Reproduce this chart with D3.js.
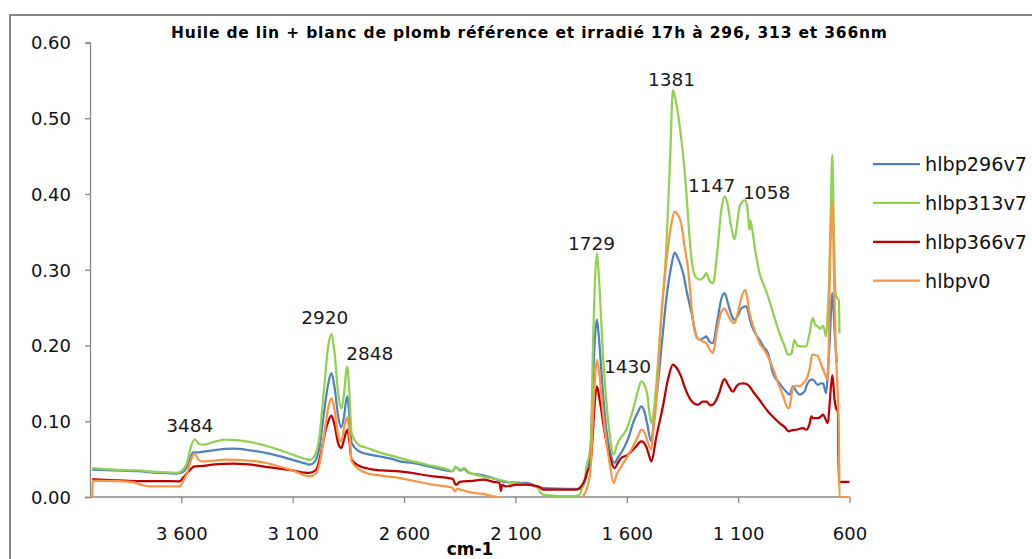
<!DOCTYPE html>
<html>
<head>
<meta charset="utf-8">
<script src="https://cdn.jsdelivr.net/npm/d3@7"></script>
<style>
  html, body { margin: 0; padding: 0; background: #fff; }
  svg { display: block; }
</style>
</head>
<body>
<svg id="chart" width="1032" height="559"></svg>
<script>
// ---------------- DATA ----------------
const chartTitle = "Huile de lin + blanc de plomb référence et irradié 17h à 296, 313 et 366nm";
const xAxisTitle = "cm-1";
const seriesNames = ["hlbp296v7", "hlbp313v7", "hlbp366v7", "hlbpv0"];
const seriesColors = ["#4F81BD", "#92D050", "#C00000", "#F79646"];
const xTicks = [3600, 3100, 2600, 2100, 1600, 1100, 600];
const yTicks = [0, 0.1, 0.2, 0.3, 0.4, 0.5, 0.6];

// [wavenumber cm-1, absorbance]
const hlbp296v7 = [[4000,0.036],[3900,0.035],[3800,0.034],[3700,0.032],[3620,0.031],[3600,0.032],[3575,0.040],[3555,0.055],[3547,0.059],[3520,0.059],[3500,0.060],[3450,0.062],[3368,0.0637],[3300,0.062],[3200,0.057],[3100,0.049],[3040,0.044],[3024,0.0426],[3000,0.047],[2980,0.065],[2960,0.110],[2940,0.150],[2926,0.1636],[2912,0.145],[2895,0.105],[2882,0.092],[2870,0.105],[2860,0.127],[2854,0.1328],[2846,0.11],[2835,0.071],[2800,0.060],[2769,0.057],[2700,0.053],[2649,0.050],[2620,0.047],[2561,0.0449],[2470,0.039],[2381,0.034],[2370,0.039],[2364,0.039],[2350,0.035],[2330,0.037],[2310,0.032],[2245,0.0285],[2171,0.022],[2150,0.020],[2100,0.019],[2051,0.0185],[2000,0.013],[1991,0.0119],[1900,0.011],[1812,0.0106],[1795,0.015],[1781,0.0317],[1763,0.0624],[1752,0.15],[1742,0.215],[1734,0.234],[1725,0.21],[1708,0.1416],[1690,0.085],[1677,0.0624],[1655,0.0449],[1640,0.052],[1617,0.0624],[1590,0.08],[1572,0.0976],[1550,0.112],[1535,0.1195],[1520,0.112],[1509,0.0976],[1490,0.0734],[1475,0.11],[1460,0.150],[1440,0.21],[1423,0.260],[1400,0.305],[1385,0.3227],[1370,0.315],[1347,0.2955],[1330,0.27],[1309,0.2428],[1290,0.215],[1273,0.2075],[1255,0.21],[1243,0.212],[1228,0.205],[1213,0.203],[1195,0.23],[1175,0.262],[1161,0.269],[1145,0.255],[1130,0.24],[1116,0.234],[1100,0.24],[1086,0.249],[1064,0.2515],[1055,0.245],[1049,0.236],[1030,0.22],[1004,0.2075],[985,0.198],[966,0.19],[944,0.1636],[914,0.15],[884,0.139],[869,0.135],[854,0.146],[840,0.14],[824,0.135],[800,0.14],[794,0.146],[771,0.155],[765,0.155],[742,0.148],[730,0.15],[719,0.150],[708,0.139],[705,0.137],[697,0.165],[690,0.2],[677,0.269],[667,0.22],[657,0.177]];

const hlbp313v7 = [[4000,0.038],[3900,0.036],[3800,0.035],[3700,0.033],[3620,0.032],[3600,0.034],[3575,0.045],[3555,0.068],[3540,0.076],[3520,0.070],[3500,0.069],[3450,0.073],[3400,0.0756],[3300,0.073],[3200,0.066],[3100,0.056],[3040,0.050],[3024,0.049],[3000,0.055],[2980,0.080],[2960,0.140],[2940,0.200],[2926,0.2155],[2912,0.190],[2895,0.135],[2882,0.117],[2870,0.135],[2860,0.165],[2854,0.172],[2846,0.140],[2835,0.084],[2800,0.068],[2769,0.065],[2700,0.058],[2649,0.054],[2561,0.047],[2470,0.041],[2400,0.036],[2381,0.034],[2370,0.040],[2364,0.039],[2350,0.036],[2330,0.038],[2310,0.033],[2245,0.027],[2171,0.0228],[2100,0.018],[2051,0.017],[2000,0.012],[1985,0.005],[1976,0.003],[1900,0.001],[1842,0.001],[1812,0.003],[1800,0.012],[1789,0.023],[1781,0.040],[1767,0.058],[1760,0.080],[1752,0.194],[1742,0.290],[1734,0.322],[1725,0.29],[1708,0.194],[1690,0.12],[1677,0.084],[1659,0.056],[1645,0.068],[1633,0.0756],[1602,0.0888],[1572,0.115],[1550,0.14],[1535,0.1525],[1520,0.148],[1509,0.137],[1490,0.0976],[1480,0.11],[1467,0.150],[1445,0.238],[1423,0.326],[1405,0.45],[1393,0.537],[1385,0.53],[1362,0.489],[1338,0.423],[1320,0.35],[1309,0.313],[1290,0.29],[1273,0.287],[1255,0.29],[1243,0.2955],[1228,0.285],[1213,0.282],[1195,0.32],[1175,0.38],[1161,0.397],[1150,0.39],[1130,0.355],[1116,0.340],[1105,0.36],[1094,0.383],[1080,0.39],[1071,0.392],[1060,0.385],[1052,0.36],[1049,0.353],[1045,0.365],[1041,0.36],[1020,0.32],[1004,0.2955],[985,0.28],[966,0.265],[940,0.24],[914,0.216],[890,0.198],[876,0.188],[869,0.188],[860,0.19],[847,0.2075],[835,0.20],[824,0.199],[794,0.199],[780,0.215],[765,0.236],[755,0.228],[742,0.225],[730,0.222],[719,0.226],[712,0.22],[705,0.212],[697,0.25],[692,0.282],[684,0.38],[677,0.4517],[670,0.35],[663,0.269],[655,0.262],[648,0.26],[645,0.216]];

const hlbp366v7 = [[4000,0.0237],[3900,0.022],[3800,0.021],[3700,0.021],[3607,0.0206],[3593,0.025],[3570,0.033],[3540,0.0404],[3500,0.041],[3450,0.043],[3368,0.044],[3300,0.043],[3200,0.039],[3100,0.035],[3024,0.0317],[2995,0.036],[2975,0.055],[2955,0.085],[2940,0.100],[2926,0.1073],[2912,0.095],[2895,0.07],[2882,0.0646],[2870,0.075],[2860,0.086],[2854,0.0888],[2846,0.075],[2835,0.049],[2800,0.041],[2769,0.038],[2700,0.035],[2620,0.0338],[2470,0.0272],[2381,0.024],[2370,0.017],[2364,0.0162],[2350,0.020],[2330,0.0206],[2300,0.021],[2245,0.0228],[2200,0.020],[2171,0.0185],[2165,0.008],[2160,0.016],[2140,0.014],[2100,0.016],[2051,0.0162],[2000,0.014],[1985,0.012],[1976,0.0096],[1900,0.0096],[1827,0.0096],[1805,0.014],[1785,0.025],[1774,0.036],[1767,0.038],[1755,0.0712],[1745,0.12],[1734,0.146],[1720,0.125],[1708,0.102],[1690,0.07],[1677,0.0536],[1655,0.038],[1640,0.045],[1625,0.0515],[1600,0.055],[1587,0.058],[1560,0.066],[1535,0.0734],[1513,0.0668],[1500,0.055],[1490,0.047],[1467,0.080],[1438,0.1195],[1415,0.155],[1393,0.1746],[1375,0.17],[1356,0.159],[1340,0.145],[1318,0.1306],[1300,0.124],[1280,0.1218],[1260,0.126],[1243,0.126],[1225,0.121],[1213,0.122],[1195,0.13],[1183,0.139],[1170,0.152],[1161,0.1557],[1145,0.148],[1123,0.139],[1110,0.145],[1094,0.1495],[1075,0.15],[1056,0.148],[1030,0.138],[1004,0.128],[966,0.113],[940,0.105],[914,0.0976],[890,0.092],[872,0.0866],[860,0.088],[839,0.0888],[809,0.091],[794,0.0888],[780,0.096],[771,0.1063],[765,0.104],[742,0.104],[730,0.106],[719,0.1086],[705,0.101],[697,0.0976],[690,0.12],[677,0.161],[667,0.1284],[660,0.117],[652,0.113],[648,0.02],[600,0.02]];

const hlbpv0 = [[4000,0],[3998,0.0215],[3900,0.021],[3817,0.0197],[3780,0.016],[3742,0.014],[3607,0.014],[3593,0.02],[3570,0.035],[3555,0.05],[3540,0.0571],[3525,0.05],[3510,0.047],[3450,0.048],[3399,0.0492],[3300,0.048],[3220,0.0449],[3100,0.035],[3024,0.0272],[2995,0.031],[2975,0.05],[2955,0.09],[2940,0.118],[2926,0.1306],[2912,0.115],[2895,0.08],[2882,0.0734],[2870,0.09],[2860,0.102],[2854,0.1055],[2846,0.085],[2835,0.047],[2800,0.036],[2769,0.0317],[2700,0.028],[2620,0.025],[2470,0.0162],[2381,0.0119],[2373,0.0074],[2360,0.011],[2340,0.009],[2300,0.006],[2245,0.004],[2200,0.001],[2155,-0.0013],[2100,-0.006],[2000,-0.01],[1900,-0.01],[1800,-0.004],[1796,0],[1781,0.0096],[1767,0.027],[1760,0.049],[1752,0.106],[1742,0.16],[1734,0.181],[1722,0.16],[1708,0.115],[1690,0.07],[1677,0.0449],[1659,0.0185],[1645,0.03],[1625,0.040],[1600,0.052],[1572,0.0668],[1550,0.08],[1535,0.0888],[1520,0.085],[1509,0.0756],[1490,0.0624],[1480,0.09],[1467,0.128],[1445,0.238],[1423,0.309],[1400,0.36],[1385,0.3768],[1370,0.372],[1356,0.3615],[1340,0.33],[1326,0.304],[1303,0.234],[1285,0.21],[1273,0.2075],[1255,0.205],[1243,0.203],[1228,0.195],[1213,0.19],[1195,0.22],[1175,0.245],[1161,0.249],[1145,0.24],[1130,0.232],[1116,0.2296],[1100,0.245],[1086,0.2626],[1068,0.2735],[1060,0.265],[1050,0.245],[1041,0.234],[1020,0.215],[1004,0.203],[985,0.195],[966,0.1855],[944,0.17],[920,0.15],[900,0.135],[876,0.117],[869,0.1195],[854,0.1438],[840,0.147],[824,0.146],[809,0.15],[794,0.155],[775,0.175],[768,0.188],[765,0.188],[742,0.186],[735,0.181],[727,0.1746],[712,0.1636],[697,0.155],[688,0.30],[677,0.39],[670,0.3],[663,0.2075],[648,0.0844],[645,0],[600,0]];

// peak annotations: [label, wavenumber anchor, absorbance anchor]
const peakLabels = ["3484", "2920", "2848", "1729", "1430", "1381", "1147", "1058"];
const peakAnchorX = [3562, 2956, 2754, 1758, 1597, 1399, 1219, 972];
const peakAnchorY = [0.0858, 0.228, 0.1809, 0.326, 0.1633, 0.5426, 0.403, 0.393];

// ---------------- DRAW ----------------
const seriesData = [hlbp296v7, hlbp313v7, hlbp366v7, hlbpv0];
const svg = d3.select("#chart");
const plot = { left: 90, right: 849.5, top: 42.5, bottom: 497 };

const x = d3.scaleLinear().domain([4010, 600]).range([plot.left, plot.right]);
const y = d3.scaleLinear().domain([0, 0.6]).range([plot.bottom, plot.top]);

const axisColor = "#878787";
const tickFont = "'DejaVu Sans', Verdana, sans-serif";

// chart area border
svg.append("rect")
  .attr("x", 10).attr("y", 15)
  .attr("width", 1100).attr("height", 700)
  .attr("fill", "#fff")
  .attr("stroke", axisColor).attr("stroke-width", 2);

// title
svg.append("text")
  .attr("x", 529).attr("y", 38)
  .attr("text-anchor", "middle")
  .attr("font-family", tickFont)
  .attr("font-weight", "bold")
  .attr("font-size", 15.5)
  .attr("textLength", 716)
  .attr("lengthAdjust", "spacing")
  .attr("fill", "#000")
  .text(chartTitle);

// y axis
const yAxis = d3.axisLeft(y).tickValues(yTicks).tickFormat(d3.format(".2f")).tickSize(5).tickPadding(14);
const gy = svg.append("g").attr("transform", `translate(${plot.left},0)`).call(yAxis);
gy.select(".domain").attr("stroke", axisColor).attr("stroke-width", 1.3);
gy.selectAll(".tick line").attr("stroke", axisColor).attr("stroke-width", 1.3);
gy.selectAll(".tick text").attr("font-family", tickFont).attr("font-size", 18).attr("fill", "#111").attr("dy", "0.36em");

// x axis
const xAxis = d3.axisBottom(x).tickValues(xTicks)
  .tickFormat(d => d >= 1000 ? String(Math.floor(d / 1000)) + " " + String(d % 1000).padStart(3, "0") : String(d))
  .tickSize(6).tickPadding(24);
const gx = svg.append("g").attr("transform", `translate(0,${plot.bottom})`).call(xAxis);
gx.select(".domain").attr("stroke", axisColor).attr("stroke-width", 1.3).attr("d", `M${plot.left},0H${plot.right}`);
gx.selectAll(".tick line").attr("stroke", axisColor).attr("stroke-width", 1.3);
gx.selectAll(".tick text").attr("font-family", tickFont).attr("font-size", 18).attr("fill", "#111");

// x axis title
svg.append("text")
  .attr("x", 470).attr("y", 555)
  .attr("text-anchor", "middle")
  .attr("font-family", tickFont)
  .attr("font-weight", "bold")
  .attr("font-size", 17)
  .attr("fill", "#000")
  .text(xAxisTitle);

// clip
svg.append("clipPath").attr("id", "plotclip")
  .append("rect")
  .attr("x", plot.left).attr("y", plot.top - 2)
  .attr("width", plot.right - plot.left + 3).attr("height", plot.bottom - plot.top + 3);

const line = d3.line()
  .x(d => x(d[0]))
  .y(d => y(d[1]))
  .curve(d3.curveMonotoneX);

const gLines = svg.append("g").attr("clip-path", "url(#plotclip)");
seriesData.forEach((s, i) => {
  gLines.append("path")
    .datum(s)
    .attr("fill", "none")
    .attr("stroke", seriesColors[i])
    .attr("stroke-width", 2.25)
    .attr("stroke-linejoin", "round")
    .attr("d", line);
});

// peak labels
svg.append("g").selectAll("text")
  .data(peakLabels)
  .join("text")
  .attr("x", (d, i) => x(peakAnchorX[i]))
  .attr("y", (d, i) => y(peakAnchorY[i]))
  .attr("text-anchor", "middle")
  .attr("font-family", tickFont)
  .attr("font-size", 18.5)
  .attr("fill", "#1a1a1a")
  .text(d => d);

// legend
const legend = svg.append("g").attr("transform", "translate(873,164)");
seriesNames.forEach((name, i) => {
  const row = legend.append("g").attr("transform", `translate(0,${i * 38.9})`);
  row.append("line")
    .attr("x1", 0).attr("x2", 47).attr("y1", 0).attr("y2", 0)
    .attr("stroke", seriesColors[i]).attr("stroke-width", 2.25);
  row.append("text")
    .attr("x", 52).attr("y", 0).attr("dy", "0.36em")
    .attr("font-family", tickFont)
    .attr("font-size", 19.2)
    .attr("fill", "#111")
    .text(name);
});
</script>
</body>
</html>
